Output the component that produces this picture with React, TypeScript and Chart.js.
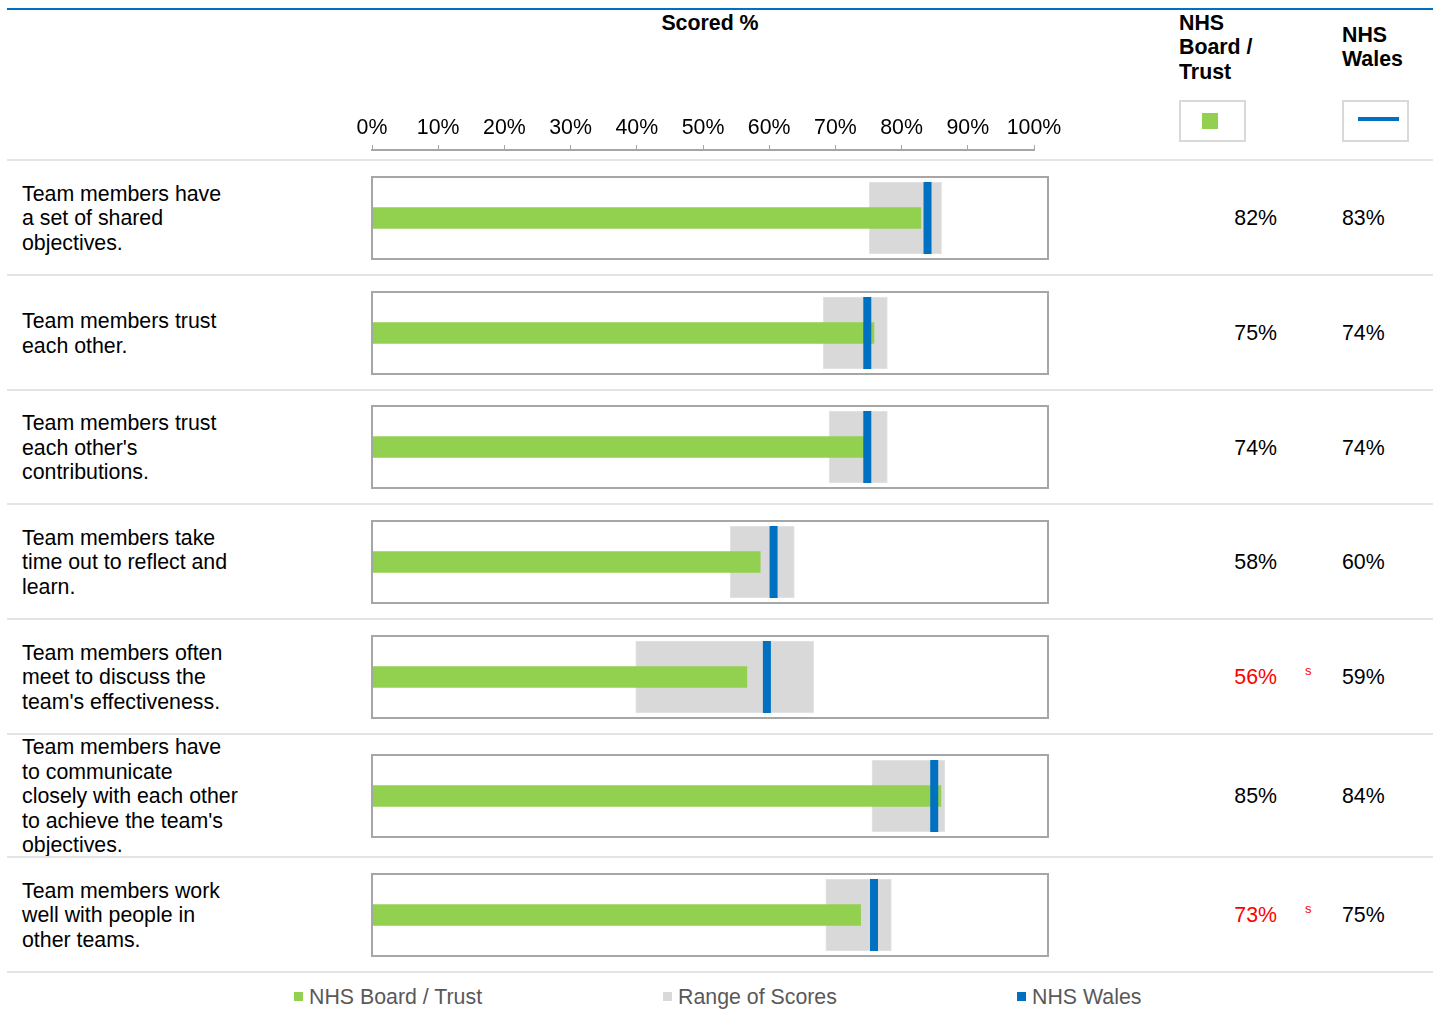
import React, { useEffect, useRef } from 'react';
import { Chart, registerables } from 'chart.js';

Chart.register(...registerables);

// ---- data ----
const categories = [
  'Team members have\na set of shared\nobjectives.',
  'Team members trust\neach other.',
  "Team members trust\neach other's\ncontributions.",
  'Team members take\ntime out to reflect and\nlearn.',
  "Team members often\nmeet to discuss the\nteam's effectiveness.",
  "Team members have\nto communicate\nclosely with each other\nto achieve the team's\nobjectives.",
  'Team members work\nwell with people in\nother teams.',
];
const boardTrust = [82, 75, 74, 58, 56, 85, 73];
const nhsWales = [83, 74, 74, 60, 59, 84, 75];
const rangeLow = [74.3, 67.4, 68.3, 53.5, 39.4, 74.7, 67.8];
const rangeHigh = [85.1, 77.0, 77.0, 63.1, 66.0, 85.6, 77.6];
const significantlyLower = [false, false, false, false, true, false, true];
const legendLabels = ['NHS Board / Trust', 'Range of Scores', 'NHS Wales'];

// ---- styling / layout ----
const FONT = '"Liberation Sans", Arial, Helvetica, sans-serif';
const FS = 21.33;
const LH = 24.5;
const GREEN = '#92d050';
const GRAY = '#d9d9d9';
const BLUE = '#0070c0';
const FRAME = '#a6a6a6';
const RULE = '#e4e4e4';

const ROW_EDGES = [160, 275, 390, 504, 619, 734, 857, 972];
const PLOT_LEFT = 372;
const PLOT_RIGHT = 1048;
const BOX_H = 82;
const X_MAX = 101;

const framePlugin = {
  id: 'frame',
  afterDatasetsDraw(chart: any) {
    const { ctx, chartArea: a } = chart;
    ctx.save();
    ctx.strokeStyle = FRAME;
    ctx.lineWidth = 2;
    ctx.strokeRect(a.left, a.top, a.right - a.left, a.bottom - a.top);
    ctx.restore();
  },
};

function BulletRow({ index, top }: { index: number; top: number }) {
  const ref = useRef<HTMLCanvasElement | null>(null);
  useEffect(() => {
    if (!ref.current) return;
    const chart = new Chart(ref.current, {
      type: 'bar',
      data: {
        labels: [categories[index]],
        datasets: [
          {
            type: 'line',
            label: legendLabels[2],
            data: [nhsWales[index]],
            indexAxis: 'y',
            showLine: false,
            pointStyle: 'line',
            pointRotation: 90,
            pointRadius: 36,
            pointHoverRadius: 36,
            pointBorderWidth: 8,
            pointBorderColor: BLUE,
            pointBackgroundColor: BLUE,
            borderColor: BLUE,
            clip: false,
            order: 1,
          } as any,
          {
            label: legendLabels[0],
            data: [boardTrust[index]],
            backgroundColor: GREEN,
            barThickness: 21,
            grouped: false,
            order: 2,
          } as any,
          {
            label: legendLabels[1],
            data: [[rangeLow[index], rangeHigh[index]]],
            backgroundColor: GRAY,
            borderColor: '#e4e4e4',
            borderWidth: 1,
            borderSkipped: false,
            barThickness: 72,
            grouped: false,
            order: 3,
          } as any,
        ],
      },
      options: {
        indexAxis: 'y',
        animation: false,
        responsive: false,
        events: [],
        layout: { padding: 1, autoPadding: false },
        plugins: { legend: { display: false }, tooltip: { enabled: false } },
        scales: {
          x: { type: 'linear', min: 0, max: X_MAX, display: false },
          y: { type: 'category', display: false },
        },
      },
      plugins: [framePlugin],
    });
    return () => chart.destroy();
  }, [index]);
  return (
    <canvas
      ref={ref}
      width={PLOT_RIGHT - PLOT_LEFT + 2}
      height={BOX_H + 2}
      style={{ position: 'absolute', left: PLOT_LEFT - 1, top: top - 1, width: PLOT_RIGHT - PLOT_LEFT + 2, height: BOX_H + 2 }}
    />
  );
}

function ScaleHeader() {
  const ref = useRef<HTMLCanvasElement | null>(null);
  useEffect(() => {
    if (!ref.current) return;
    const chart = new Chart(ref.current, {
      type: 'bar',
      data: { labels: [], datasets: [] },
      options: {
        indexAxis: 'y',
        animation: false,
        responsive: false,
        events: [],
        layout: { padding: { left: 42, right: 56, top: 0, bottom: 0 } },
        plugins: { legend: { display: false }, tooltip: { enabled: false } },
        scales: {
          x: {
            type: 'linear',
            position: 'top',
            min: 0,
            max: 100,
            afterFit: (s: any) => {
              s.height = 55;
            },
            ticks: {
              stepSize: 10,
              autoSkip: false,
              maxRotation: 0,
              padding: 4,
              color: '#000',
              font: { family: FONT, size: FS },
              callback: (v: any) => `${v}%`,
            },
            grid: { drawOnChartArea: false, tickLength: 5, color: FRAME, lineWidth: 1 },
            border: { color: FRAME, width: 2 },
          },
          y: { display: false },
        },
      },
    });
    return () => chart.destroy();
  }, []);
  return (
    <canvas
      ref={ref}
      width={760}
      height={65}
      style={{ position: 'absolute', left: 330, top: 95, width: 760, height: 65 }}
    />
  );
}

function Text({
  x, y, children, bold, color, size, align, width,
}: {
  x: number; y: number; children: React.ReactNode; bold?: boolean; color?: string;
  size?: number; align?: 'left' | 'right' | 'center'; width?: number;
}) {
  const s = size ?? FS;
  const lh = s * 1.15;
  return (
    <div
      style={{
        position: 'absolute',
        left: x,
        top: y - lh / 2,
        width: width,
        lineHeight: `${lh}px`,
        fontSize: s,
        fontWeight: bold ? 700 : 400,
        color: color ?? '#000',
        textAlign: align ?? 'left',
        whiteSpace: 'pre',
      }}
    >
      {children}
    </div>
  );
}

export default function App() {
  const rows = categories.map((label, i) => {
    const top = ROW_EDGES[i];
    const bottom = ROW_EDGES[i + 1];
    const mid = (top + bottom) / 2;
    const nLines = label.split('\n').length;
    const low = significantlyLower[i];
    return (
      <React.Fragment key={i}>
        <div
          style={{
            position: 'absolute',
            left: 22,
            top: mid - (nLines * LH) / 2 + 1,
            lineHeight: `${LH}px`,
            fontSize: FS,
            whiteSpace: 'pre',
            color: '#000',
          }}
        >
          {label}
        </div>
        <BulletRow index={i} top={Math.round(mid - BOX_H / 2)} />
        <Text x={1177} y={mid + 1} width={100} align="right" color={low ? '#ff0000' : '#000'}>
          {`${boardTrust[i]}%`}
        </Text>
        {low && (
          <Text x={1305} y={mid - 5} size={13} color="#ff0000">
            s
          </Text>
        )}
        <Text x={1342} y={mid + 1}>{`${nhsWales[i]}%`}</Text>
        <div style={{ position: 'absolute', left: 7, top: bottom - 1, width: 1426, height: 2, background: RULE }} />
      </React.Fragment>
    );
  });

  const legendSwatches = [GREEN, GRAY, BLUE];
  const legendX = [294, 663, 1017];

  return (
    <div
      style={{
        position: 'absolute',
        left: 0,
        top: 0,
        width: 1438,
        height: 1014,
        background: '#fff',
        fontFamily: FONT,
        overflow: 'hidden',
      }}
    >
      <div style={{ position: 'absolute', left: 7, top: 8, width: 1426, height: 2, background: BLUE }} />
      <Text x={560} y={23} width={300} align="center" bold>
        Scored %
      </Text>
      <div
        style={{
          position: 'absolute', left: 1179, top: 23 - LH / 2, lineHeight: `${LH}px`,
          fontSize: FS, fontWeight: 700, whiteSpace: 'pre',
        }}
      >
        {'NHS\nBoard /\nTrust'}
      </div>
      <div
        style={{
          position: 'absolute', left: 1342, top: 35 - LH / 2, lineHeight: `${LH}px`,
          fontSize: FS, fontWeight: 700, whiteSpace: 'pre',
        }}
      >
        {'NHS\nWales'}
      </div>
      <div style={{ position: 'absolute', left: 1179, top: 100, width: 63, height: 38, border: '2px solid #d9d9d9' }}>
        <div style={{ position: 'absolute', left: 21, top: 11, width: 16, height: 16, background: GREEN }} />
      </div>
      <div style={{ position: 'absolute', left: 1342, top: 100, width: 63, height: 38, border: '2px solid #d9d9d9' }}>
        <div style={{ position: 'absolute', left: 14, top: 15, width: 41, height: 4, background: BLUE }} />
      </div>
      <ScaleHeader />
      <div style={{ position: 'absolute', left: 7, top: ROW_EDGES[0] - 1, width: 1426, height: 2, background: RULE }} />
      {rows}
      {legendLabels.map((name, i) => (
        <React.Fragment key={name}>
          <div
            style={{
              position: 'absolute', left: legendX[i], top: 992, width: 9, height: 9,
              background: legendSwatches[i],
            }}
          />
          <Text x={legendX[i] + 15} y={997} color="#595959">
            {name}
          </Text>
        </React.Fragment>
      ))}
    </div>
  );
}
